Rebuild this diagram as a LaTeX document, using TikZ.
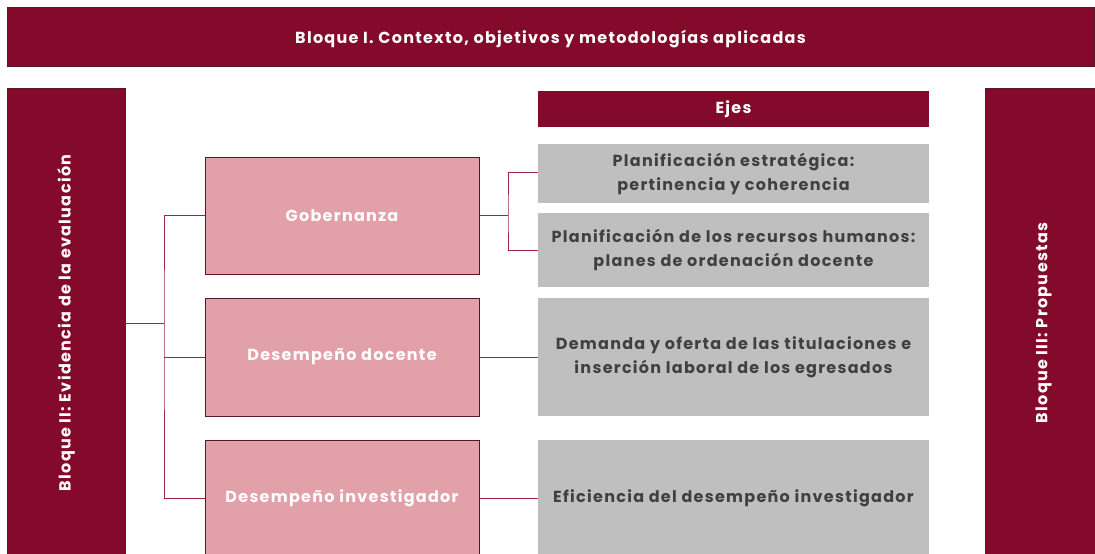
\documentclass[tikz,border=0pt]{standalone}
\usepackage{fontspec}
\setmainfont{Poppins}[LetterSpace=8]
\usepackage{xcolor}
\usetikzlibrary{calc,positioning}
\definecolor{granate}{HTML}{840A2B}
\definecolor{rosa}{HTML}{E2A0A8}
\definecolor{gris}{HTML}{BFBFBF}
\definecolor{textogris}{HTML}{404040}
\definecolor{borde}{HTML}{5A1526}
\definecolor{linea}{HTML}{9B2447}

\begin{document}
\begin{tikzpicture}[x=1pt,y=-1pt,
	bloque/.style={draw=borde,fill=granate,line width=0.8pt,text=white,inner sep=0pt,text depth=0pt,font=\bfseries\fontsize{16}{20}\selectfont},
	eje/.style={fill=granate,text=white,inner sep=0pt,minimum width=391,minimum height=36,font=\bfseries\fontsize{16}{20}\selectfont},
	area/.style={draw=borde,fill=rosa,line width=1pt,text=white,inner sep=0pt,minimum width=274,minimum height=117,font=\bfseries\fontsize{16}{20}\selectfont},
	tema/.style={fill=gris,text=textogris,inner sep=0pt,minimum width=391,align=center,font=\bfseries\fontsize{16}{24}\selectfont},
	link/.style={draw=linea,line width=0.9pt}]
			\clip (0,0) rectangle (1095,554);
			\useasboundingbox (0,0) rectangle (1095,554);
			% bloques
			\node[bloque,minimum width=1087,minimum height=59] (bI) at (550.5,36.5) {Bloque I. Contexto, objetivos y metodologías aplicadas};
			\node[bloque,minimum width=118,minimum height=470] (bII) at (66,323) {};
			\node[rotate=90,text=white,font=\bfseries\fontsize{16}{20}\selectfont] at (bII.center) {Bloque II: Evidencia de la evaluación};
			\node[bloque,minimum width=117,minimum height=470] (bIII) at (1043.5,323) {};
			\node[rotate=90,text=white,font=\bfseries\fontsize{16}{20}\selectfont] at (bIII.center) {Bloque III: Propuestas};
			% areas
			\node[area] (gob) at (342,215.5) {Gobernanza};
			\node[area,minimum height=118] (doc) at (342,357) {Desempeño docente};
			\node[area,minimum height=116] (inv) at (342,498) {Desempeño investigador};
			% ejes
			\node[eje] (ejes) at (733.5,109) {Ejes};
			\node[tema,minimum height=59] (e1) at (733.5,173.5) {Planificación estratégica:\\pertinencia y coherencia};
			\node[tema,minimum height=74] (e2) at (733.5,250) {Planificación de los recursos humanos:\\planes de ordenación docente};
			\node[tema,minimum height=118] (e3) at (733.5,357) {Demanda y oferta de las titulaciones e\\inserción laboral de los egresados};
			\node[tema,minimum height=116] (e4) at (733.5,498) {Eficiencia del desempeño investigador};
			% conectores
			\coordinate (hub) at (164,323);
			\coordinate (split) at (508,215.5);
			\draw[link] (bII.east |- hub) -- (hub);
			\draw[link] (gob.west) -| (hub) |- (inv.west);
			\draw[link] (doc.west) -- (doc.west -| hub);
			\draw[link] (gob.east) -- (split);
			\draw[link] (e1.west |- 0,172) -| (split) |- (e2.west);
			\draw[link] (doc.east) -- (e3.west);
			\draw[link] (inv.east) -- (e4.west);
\end{tikzpicture}
\end{document}
